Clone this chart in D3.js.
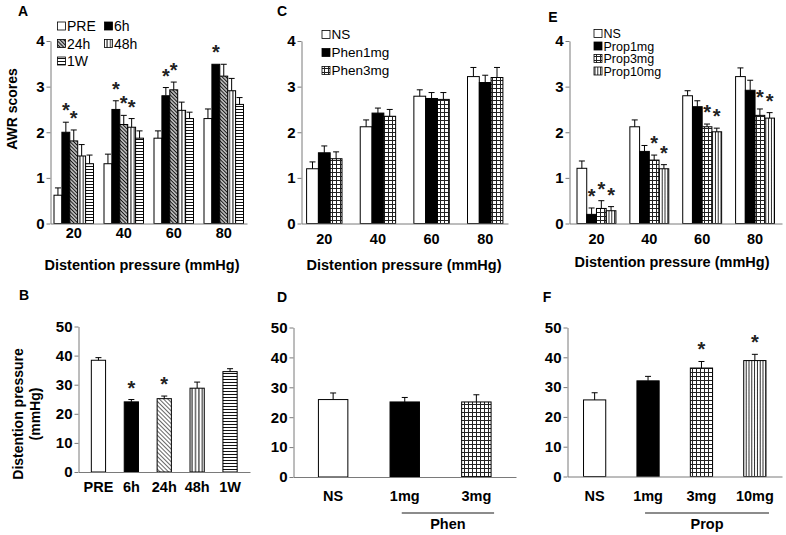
<!DOCTYPE html>
<html>
<head>
<meta charset="utf-8">
<script src="https://cdn.jsdelivr.net/npm/d3@7"></script>
<style>
  body { margin: 0; background: #fff; }
  svg { display: block; font-family: "Liberation Sans", Arial, sans-serif; }
</style>
</head>
<body>
<svg id="fig" width="786" height="535"></svg>
<script>
// ---------- data ----------
var pressureLabels = ["20", "40", "60", "80"];

// A: AWR scores at each time point after the injury
var timeNames = ["PRE", "6h", "24h", "48h", "1W"];
var awrTimeMean = [
  [0.62, 1.31, 1.87, 2.30],
  [2.00, 2.50, 2.80, 3.49],
  [1.81, 2.17, 2.93, 3.23],
  [1.48, 2.11, 2.48, 2.91],
  [1.31, 1.87, 2.30, 2.61]
];
var awrTimeErr = [
  [0.16, 0.21, 0.16, 0.21],
  [0.22, 0.19, 0.18, 0.00],
  [0.24, 0.20, 0.17, 0.26],
  [0.25, 0.19, 0.18, 0.27],
  [0.19, 0.16, 0.14, 0.15]
];
var awrTimeSig = [
  [0, 0, 0, 0],
  [1, 1, 1, 1],
  [1, 1, 1, 0],
  [0, 1, 0, 0],
  [0, 0, 0, 0]
];

// C: phentolamine
var phenNames = ["NS", "Phen1mg", "Phen3mg"];
var awrPhenMean = [
  [1.20, 2.12, 2.79, 3.22],
  [1.55, 2.42, 2.74, 3.09],
  [1.42, 2.35, 2.72, 3.20]
];
var awrPhenErr = [
  [0.15, 0.15, 0.14, 0.20],
  [0.15, 0.11, 0.13, 0.16],
  [0.15, 0.15, 0.15, 0.22]
];

// E: propranolol
var propNames = ["NS", "Prop1mg", "Prop3mg", "Prop10mg"];
var awrPropMean = [
  [1.21, 2.12, 2.80, 3.22],
  [0.20, 1.58, 2.56, 2.92],
  [0.33, 1.39, 2.12, 2.37],
  [0.28, 1.20, 2.01, 2.31]
];
var awrPropErr = [
  [0.16, 0.15, 0.11, 0.19],
  [0.14, 0.13, 0.13, 0.22],
  [0.17, 0.11, 0.06, 0.14],
  [0.09, 0.09, 0.08, 0.12]
];
var awrPropSig = [
  [0, 0, 0, 0],
  [1, 0, 0, 0],
  [1, 1, 1, 1],
  [1, 1, 1, 1]
];

// B: distention threshold over time
var thrTimeMean = [38.4, 24.1, 25.2, 28.8, 34.5];
var thrTimeErr = [0.9, 0.8, 0.9, 2.1, 1.0];
var thrTimeSig = [0, 1, 1, 0, 0];

// D: threshold with phentolamine
var phenDoses = ["NS", "1mg", "3mg"];
var thrPhenMean = [25.9, 25.1, 25.1];
var thrPhenErr = [2.2, 1.5, 2.4];

// F: threshold with propranolol
var propDoses = ["NS", "1mg", "3mg", "10mg"];
var thrPropMean = [25.7, 32.1, 36.4, 38.9];
var thrPropErr = [2.4, 1.5, 2.2, 2.1];
var thrPropSig = [0, 0, 1, 1];

// bar fills for each series
var timeFills = ["white", "black", "hatchDark", "vlines", "hlines"];
var timeFillsB = ["white", "black", "hatchLight", "vlines", "hlines"];
var phenFills = ["white", "black", "grid"];
var propFills = ["white", "black", "grid", "vlinesFine"];

// ---------- drawing ----------
var svg = d3.select("#fig");
var defs = svg.append("defs");

function stripes(id, gap, angle, color, w) {
  var p = defs.append("pattern").attr("id", id)
    .attr("patternUnits", "userSpaceOnUse")
    .attr("width", gap).attr("height", gap);
  if (angle) p.attr("patternTransform", "rotate(" + angle + ")");
  p.append("rect").attr("width", gap).attr("height", gap).attr("fill", "#fff");
  p.append("line").attr("x1", gap / 2).attr("x2", gap / 2)
    .attr("y1", 0).attr("y2", gap)
    .attr("stroke", color).attr("stroke-width", w);
}
stripes("hatchDark", 2.6, -45, "#111", 1.4);
stripes("hatchLight", 3, -45, "#555", 0.9);
stripes("vlines", 3.4, 0, "#111", 1);
stripes("vlinesFine", 2.8, 0, "#111", 0.9);
stripes("hlines", 3, 90, "#111", 1);

// square grid, on whole pixels so the lines stay sharp
var gp = defs.append("pattern").attr("id", "grid")
  .attr("patternUnits", "userSpaceOnUse").attr("width", 4).attr("height", 4);
gp.append("rect").attr("width", 4).attr("height", 4).attr("fill", "#fff");
gp.append("path").attr("d", "M0.5,0V4M0,0.5H4")
  .attr("stroke", "#222").attr("stroke-width", 1).attr("fill", "none");

function fillOf(k) {
  if (k === "white") return "#fff";
  if (k === "black") return "#000";
  return "url(#" + k + ")";
}

function styleAxis(ax) {
  ax.select(".domain").attr("stroke", "#7a7a7a");
  ax.selectAll(".tick line").attr("stroke", "#7a7a7a");
  ax.selectAll(".tick text").attr("fill", "#000")
    .attr("font-size", 14).attr("font-weight", "bold")
    .attr("font-family", "'Liberation Sans', Arial, sans-serif");
}

// bars with upward error bars and significance stars
function drawBars(g, rows, y) {
  g.selectAll("rect.bar").data(rows).enter().append("rect")
    .attr("class", "bar")
    .attr("x", function (d) { return d.x; })
    .attr("width", function (d) { return d.w; })
    .attr("y", function (d) { return y(d.v); })
    .attr("height", function (d) { return y(0) - y(d.v); })
    .attr("fill", function (d) { return fillOf(d.fill); })
    .attr("stroke", "#000").attr("stroke-width", 1);

  var eb = rows.filter(function (d) { return d.e > 0; });
  g.selectAll("path.err").data(eb).enter().append("path")
    .attr("class", "err")
    .attr("d", function (d) {
      var cx = d.x + d.w / 2, top = y(d.v + d.e);
      return "M" + cx + "," + y(d.v) + "V" + top + "M" + (cx - 3) + "," + top + "H" + (cx + 3);
    })
    .attr("stroke", "#000").attr("stroke-width", 1).attr("fill", "none");

  g.selectAll("text.star").data(rows.filter(function (d) { return d.sig; })).enter()
    .append("text").attr("class", "star")
    .attr("x", function (d) { return d.x + d.w / 2; })
    .attr("y", function (d) { return y(d.v + d.e) - 5; })
    .attr("text-anchor", "middle")
    .attr("font-size", 20).attr("font-weight", "bold").attr("fill", "#222")
    .text("*");
}

function legend(g, names, fills, o) {
  names.forEach(function (n, i) {
    var col = i % o.cols, row = Math.floor(i / o.cols);
    var lx = o.x + col * o.dx, ly = o.y + row * o.dy;
    g.append("rect").attr("x", lx).attr("y", ly - 4).attr("width", 8).attr("height", 8)
      .attr("fill", fillOf(fills[i])).attr("stroke", "#000").attr("stroke-width", 0.8);
    g.append("text").attr("x", lx + 9.5).attr("y", ly).attr("dy", "0.36em")
      .attr("font-size", o.size).attr("fill", "#000").text(n);
  });
}

function panelLetter(t, x, y) {
  svg.append("text").attr("x", x).attr("y", y).attr("text-anchor", "middle")
    .attr("font-size", 14).attr("font-weight", "bold").text(t);
}

function xTitle(t, x, y) {
  svg.append("text").attr("x", x).attr("y", y).attr("text-anchor", "middle")
    .attr("font-size", 14.5).attr("font-weight", "bold").text(t);
}

// top row: AWR score by distention pressure
function groupedPanel(o) {
  var g = svg.append("g");
  var x = d3.scaleBand().domain(pressureLabels).range([o.x0, o.x1])
    .paddingInner(o.pi).paddingOuter(o.po);
  var sub = d3.scaleBand().domain(o.names).range([0, x.bandwidth()]);
  var y = d3.scaleLinear().domain([0, 4]).range([o.y0, o.y1]);

  var rows = [];
  o.names.forEach(function (n, i) {
    pressureLabels.forEach(function (p, j) {
      rows.push({
        x: x(p) + sub(n), w: sub.bandwidth(), fill: o.fills[i],
        v: o.mean[i][j], e: o.err[i][j], sig: o.sig ? o.sig[i][j] : 0
      });
    });
  });
  drawBars(g, rows, y);

  var ax = g.append("g").attr("transform", "translate(0," + o.y0 + ")")
    .call(d3.axisBottom(x).tickSize(0).tickPadding(o.xPad));
  styleAxis(ax);
  ax.selectAll(".tick text").attr("font-size", 14.5);
  var ay = g.append("g").attr("transform", "translate(" + o.x0 + ",0)")
    .call(d3.axisLeft(y).ticks(4).tickSize(4).tickSizeOuter(0).tickPadding(2));
  styleAxis(ay);
  ay.selectAll(".tick text").attr("font-size", 15);

  legend(g, o.names, o.fills, o.legend);
}

// bottom row: distention threshold
function simplePanel(o) {
  var g = svg.append("g");
  var x = d3.scaleBand().domain(o.cats).range([o.x0, o.x1])
    .paddingInner(o.pi).paddingOuter(o.po);
  var y = d3.scaleLinear().domain([0, 50]).range([o.y0, o.y1]);

  var rows = o.cats.map(function (c, i) {
    return { x: x(c), w: x.bandwidth(), fill: o.fills[i], v: o.mean[i], e: o.err[i],
             sig: o.sig ? o.sig[i] : 0 };
  });
  drawBars(g, rows, y);

  var ax = g.append("g").attr("transform", "translate(0," + o.y0 + ")")
    .call(d3.axisBottom(x).tickSize(0).tickPadding(o.xPad));
  styleAxis(ax);
  ax.selectAll(".tick text").attr("font-size", 14.5);
  var ay = g.append("g").attr("transform", "translate(" + o.x0 + ",0)")
    .call(d3.axisLeft(y).ticks(5).tickSize(4).tickSizeOuter(0).tickPadding(2));
  styleAxis(ay);
  ay.selectAll(".tick text").attr("font-size", 15);

  if (o.drug) {
    var c1 = x(o.cats[1]) + x.bandwidth() / 2 - 3;
    var c2 = x(o.cats[o.cats.length - 1]) + x.bandwidth() + 3;
    g.append("line").attr("x1", c1).attr("x2", c2).attr("y1", 513).attr("y2", 513)
      .attr("stroke", "#666").attr("stroke-width", 1.5);
    g.append("text").attr("x", (c1 + c2) / 2).attr("y", 529).attr("text-anchor", "middle")
      .attr("font-size", 14.5).attr("font-weight", "bold").text(o.drug);
  }
}

// A
groupedPanel({
  names: timeNames, fills: timeFills, mean: awrTimeMean, err: awrTimeErr, sig: awrTimeSig,
  x0: 50.5, x1: 247, y0: 223.5, y1: 41, pi: 0.21, po: 0.07, xPad: 4,
  legend: { x: 57.5, y: 26, dx: 47, dy: 17.5, cols: 2, size: 14 }
});
// C
groupedPanel({
  names: phenNames, fills: phenFills, mean: awrPhenMean, err: awrPhenErr,
  x0: 301.5, x1: 508, y0: 223.5, y1: 41, pi: 0.34, po: 0.095, xPad: 10,
  legend: { x: 322, y: 34.5, dx: 0, dy: 18, cols: 1, size: 13.5 }
});
// E
groupedPanel({
  names: propNames, fills: propFills, mean: awrPropMean, err: awrPropErr, sig: awrPropSig,
  x0: 569.5, x1: 782, y0: 223.5, y1: 41, pi: 0.264, po: 0.142, xPad: 10,
  legend: { x: 594, y: 33.5, dx: 0, dy: 12.5, cols: 1, size: 12.5 }
});
// B
simplePanel({
  cats: timeNames, fills: timeFillsB, mean: thrTimeMean, err: thrTimeErr, sig: thrTimeSig,
  x0: 78.5, x1: 250, y0: 472, y1: 326.5, pi: 0.567, po: 0.39, xPad: 10
});
// D
simplePanel({
  cats: phenDoses, fills: phenFills, mean: thrPhenMean, err: thrPhenErr, drug: "Phen",
  x0: 293.5, x1: 516, y0: 477, y1: 327.5, pi: 0.589, po: 0.348, xPad: 14
});
// F
simplePanel({
  cats: propDoses, fills: propFills, mean: thrPropMean, err: thrPropErr, sig: thrPropSig, drug: "Prop",
  x0: 567.5, x1: 782, y0: 476.5, y1: 327.5, pi: 0.584, po: 0.3, xPad: 14
});

// panel letters
panelLetter("A", 23, 16);
panelLetter("C", 282, 16);
panelLetter("E", 553, 22);
panelLetter("B", 24, 300);
panelLetter("D", 282, 302);
panelLetter("F", 547, 302);

// axis titles
svg.append("text").attr("transform", "translate(16.5,109) rotate(-90)")
  .attr("text-anchor", "middle").attr("font-size", 14).attr("font-weight", "bold")
  .text("AWR scores");
svg.append("text").attr("transform", "translate(23,414) rotate(-90)")
  .attr("text-anchor", "middle").attr("font-size", 14).attr("font-weight", "bold")
  .text("Distention pressure");
svg.append("text").attr("transform", "translate(40,414) rotate(-90)")
  .attr("text-anchor", "middle").attr("font-size", 14).attr("font-weight", "bold")
  .text("(mmHg)");

xTitle("Distention pressure (mmHg)", 142, 270);
xTitle("Distention pressure (mmHg)", 404, 270);
xTitle("Distention pressure (mmHg)", 672, 267);
</script>
</body>
</html>
